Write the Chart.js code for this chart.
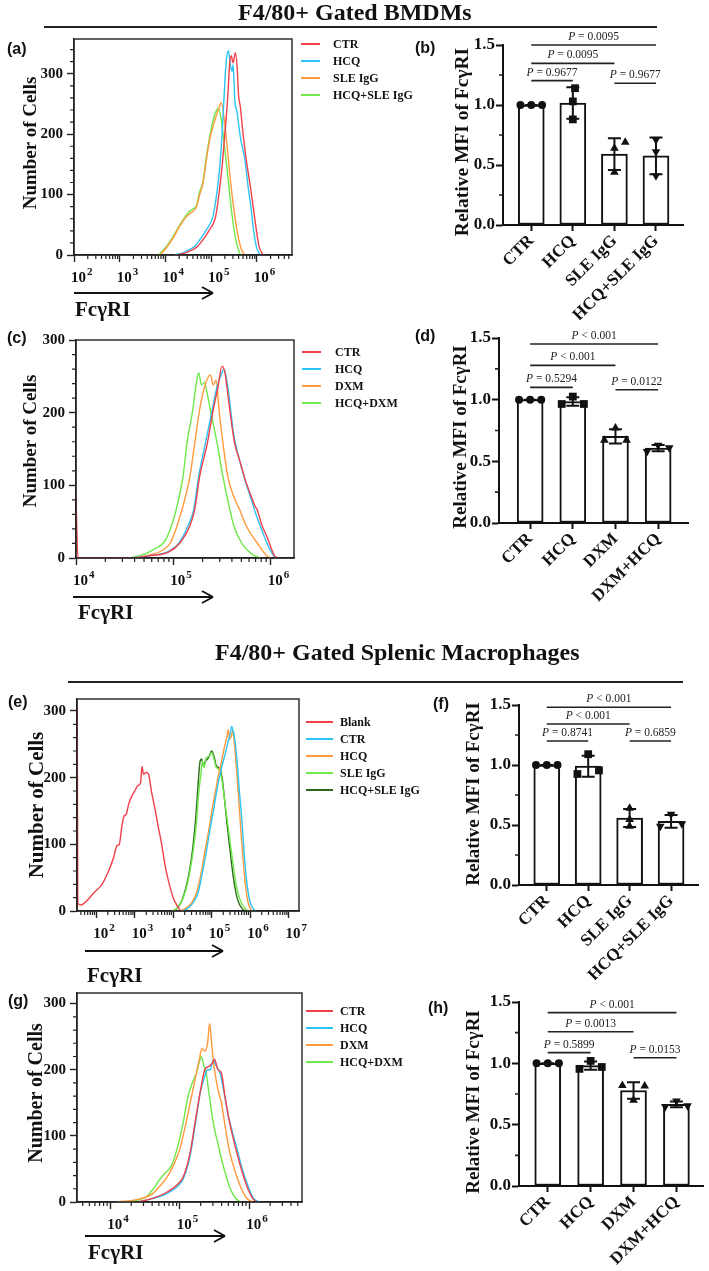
<!DOCTYPE html>
<html>
<head>
<meta charset="utf-8">
<script src="https://cdn.jsdelivr.net/npm/chart.js@4.4.1/dist/chart.umd.min.js"></script>
<style>
  body { margin: 0; background: #fff; }
  #page { position: relative; width: 709px; height: 1271px; overflow: hidden; color: #111;
          font-family: "Liberation Serif", "Times New Roman", serif; }
  #page canvas { position: absolute; }
  .txt { position: absolute; white-space: nowrap; font-weight: bold; line-height: 1; }
  .letter { font-family: "Liberation Sans", Arial, sans-serif; }
  #overlay { position: absolute; left: 0; top: 0; pointer-events: none; }
</style>
</head>
<body>
<div id="page"></div>
<script>
// ---------- histogram data: [log10(FcγRI), number of cells] ----------
const A_NAMES = ["CTR", "HCQ", "SLE IgG", "HCQ+SLE IgG"];
const A_CTR = [[4.25,0],[4.45,4],[4.6,9],[4.7,14],[4.82,25],[4.95,40],[5.1,64],[5.17,100],[5.24,146],[5.3,200],[5.36,257],[5.41,320],[5.44,330],[5.48,318],[5.53,335],[5.57,310],[5.6,265],[5.64,245],[5.7,200],[5.77,157],[5.86,113],[5.92,80],[5.98,47],[6.05,14],[6.14,0]];
const A_HCQ = [[4.2,0],[4.4,4],[4.55,10],[4.65,15],[4.75,25],[4.9,42],[5.04,64],[5.12,100],[5.19,146],[5.24,200],[5.28,257],[5.33,320],[5.38,338],[5.42,315],[5.46,304],[5.48,315],[5.52,255],[5.57,235],[5.64,195],[5.74,157],[5.81,113],[5.87,80],[5.92,47],[5.99,14],[6.07,0]];
const A_SLE = [[3.88,0],[4.0,10],[4.15,26],[4.3,46],[4.42,60],[4.52,68],[4.6,72],[4.68,80],[4.75,100],[4.82,118],[4.9,160],[4.98,195],[5.05,215],[5.12,232],[5.19,248],[5.22,252],[5.28,230],[5.35,180],[5.42,125],[5.5,75],[5.58,35],[5.66,10],[5.74,0]];
const A_HCQ_SLE = [[3.85,0],[4.0,12],[4.15,28],[4.3,48],[4.42,62],[4.52,72],[4.6,76],[4.68,82],[4.75,105],[4.82,120],[4.9,165],[4.98,200],[5.05,225],[5.12,240],[5.16,243],[5.22,225],[5.3,175],[5.38,120],[5.46,65],[5.54,25],[5.62,4],[5.66,0]];

const C_NAMES = ["CTR", "HCQ", "DXM", "HCQ+DXM"];
const C_CTR = [[4.0,83],[4.02,0],[4.55,0],[4.75,3],[4.95,8],[5.07,21],[5.17,44],[5.22,67],[5.27,112],[5.35,158],[5.41,204],[5.46,236],[5.5,264],[5.53,255],[5.55,236],[5.58,204],[5.63,158],[5.68,135],[5.75,103],[5.8,85],[5.84,71],[5.86,67],[5.91,45],[5.96,30],[6.04,3],[6.08,0]];
const C_HCQ = [[4.55,0],[4.75,3],[4.95,9],[5.06,21],[5.15,44],[5.21,67],[5.26,112],[5.33,158],[5.4,204],[5.45,236],[5.5,255],[5.52,260],[5.56,236],[5.58,215],[5.62,170],[5.67,140],[5.73,110],[5.79,85],[5.85,60],[5.91,38],[5.98,15],[6.04,2],[6.07,0]];
const C_DXM = [[4.6,0],[4.75,4],[4.88,10],[4.97,21],[5.09,67],[5.17,112],[5.22,158],[5.27,204],[5.32,235],[5.38,252],[5.41,238],[5.44,245],[5.47,204],[5.51,158],[5.56,112],[5.62,85],[5.68,67],[5.75,44],[5.86,21],[5.96,3],[6.0,0]];
const C_HCQ_DXM = [[4.55,0],[4.7,5],[4.8,12],[4.9,21],[4.97,40],[5.03,67],[5.1,112],[5.14,158],[5.2,204],[5.23,235],[5.26,255],[5.29,238],[5.32,242],[5.35,225],[5.38,204],[5.45,158],[5.51,112],[5.58,67],[5.62,45],[5.7,21],[5.8,6],[5.89,0]];

const E_NAMES = ["Blank", "CTR", "HCQ", "SLE IgG", "HCQ+SLE IgG"];
const E_BLANK = [[1.5,0],[1.505,305],[1.52,12],[1.6,9],[1.75,15],[1.95,28],[2.15,40],[2.32,60],[2.45,80],[2.54,98],[2.6,100],[2.66,125],[2.72,142],[2.78,145],[2.84,160],[2.92,172],[3.0,180],[3.08,188],[3.15,192],[3.19,217],[3.23,205],[3.3,208],[3.36,205],[3.44,178],[3.52,155],[3.6,130],[3.7,100],[3.8,65],[3.9,40],[4.0,20],[4.1,8],[4.2,0]];
const E_CTR = [[4.25,0],[4.4,5],[4.55,15],[4.65,28],[4.75,55],[4.85,85],[4.95,120],[5.05,152],[5.13,180],[5.2,200],[5.28,220],[5.35,235],[5.42,252],[5.48,265],[5.52,277],[5.56,270],[5.6,258],[5.66,225],[5.72,180],[5.78,140],[5.84,90],[5.9,50],[5.98,18],[6.06,5],[6.15,0]];
const E_HCQ = [[4.2,0],[4.35,5],[4.5,14],[4.62,30],[4.72,55],[4.82,88],[4.92,120],[5.02,155],[5.1,180],[5.18,205],[5.26,225],[5.33,245],[5.4,262],[5.43,272],[5.47,258],[5.51,262],[5.55,270],[5.6,245],[5.65,210],[5.7,170],[5.76,120],[5.82,75],[5.88,38],[5.95,12],[6.02,2],[6.06,0]];
const E_SLE = [[3.96,0],[4.1,4],[4.2,12],[4.32,30],[4.42,55],[4.52,90],[4.6,130],[4.66,175],[4.72,205],[4.76,225],[4.8,215],[4.86,230],[4.93,232],[5.0,238],[5.06,228],[5.12,215],[5.2,212],[5.27,195],[5.34,165],[5.42,130],[5.5,95],[5.58,60],[5.65,35],[5.75,15],[5.85,5],[5.95,0]];
const E_HCQ_SLE = [[4.0,0],[4.12,5],[4.22,15],[4.33,35],[4.43,62],[4.52,100],[4.6,150],[4.66,200],[4.7,225],[4.74,228],[4.78,218],[4.84,225],[4.92,230],[5.0,240],[5.06,232],[5.12,218],[5.2,214],[5.27,200],[5.33,170],[5.4,130],[5.48,90],[5.56,52],[5.64,25],[5.72,10],[5.82,2],[5.9,0]];

const G_NAMES = ["CTR", "HCQ", "DXM", "HCQ+DXM"];
const G_CTR = [[4.4,0],[4.6,5],[4.8,14],[4.95,25],[5.05,38],[5.15,75],[5.22,120],[5.3,170],[5.36,200],[5.42,205],[5.47,210],[5.5,216],[5.55,200],[5.6,195],[5.65,160],[5.7,130],[5.75,105],[5.82,75],[5.9,45],[5.98,20],[6.06,4],[6.12,0]];
const G_HCQ = [[4.4,0],[4.6,5],[4.8,12],[4.95,22],[5.05,35],[5.15,70],[5.22,115],[5.3,168],[5.36,190],[5.4,200],[5.44,200],[5.48,214],[5.53,205],[5.58,195],[5.63,170],[5.7,130],[5.76,105],[5.83,78],[5.9,50],[5.98,25],[6.06,6],[6.14,0]];
const G_DXM = [[4.1,0],[4.4,4],[4.6,12],[4.72,25],[4.82,38],[4.92,58],[5.0,80],[5.08,115],[5.16,155],[5.22,185],[5.28,215],[5.32,232],[5.36,228],[5.4,240],[5.43,270],[5.46,238],[5.5,200],[5.55,170],[5.6,150],[5.66,110],[5.72,75],[5.8,45],[5.88,22],[5.96,6],[6.05,0]];
const G_HCQ_DXM = [[4.2,0],[4.4,3],[4.52,8],[4.62,20],[4.71,34],[4.8,45],[4.88,55],[4.96,80],[5.04,115],[5.12,160],[5.18,180],[5.24,195],[5.29,215],[5.31,220],[5.35,205],[5.38,195],[5.42,165],[5.46,135],[5.5,110],[5.55,88],[5.6,65],[5.66,42],[5.72,22],[5.8,6],[5.88,0]];

// ---------- bar data: relative MFI of FcγRI, three mice per group ----------
const SLE_CATS = ["CTR", "HCQ", "SLE IgG", "HCQ+SLE IgG"];
const DXM_CATS = ["CTR", "HCQ", "DXM", "DXM+HCQ"];
const B_VALUES = [[1, 1, 1], [1.14, 1.03, 0.88], [0.69, 0.64, 0.44], [0.71, 0.61, 0.41]];
const D_VALUES = [[1, 1, 1], [0.965, 1.025, 0.965], [0.67, 0.77, 0.67], [0.58, 0.63, 0.61]];
const F_VALUES = [[1, 1, 1], [0.925, 1.09, 0.955], [0.64, 0.545, 0.49], [0.49, 0.59, 0.51]];
const H_VALUES = [[1, 1, 1], [0.955, 1.02, 0.97], [0.82, 0.70, 0.815], [0.648, 0.693, 0.655]];
// [from group, to group, bracket height, p value text]
const B_PVALUES = [[0, 1, 1.203, "= 0.9677"], [0, 2, 1.347, "= 0.0095"], [0, 3, 1.5, "= 0.0095"], [2, 3, 1.181, "= 0.9677"]];
const D_PVALUES = [[0, 1, 1.10, "= 0.5294"], [0, 2, 1.278, "< 0.001"], [0, 3, 1.451, "< 0.001"], [2, 3, 1.081, "= 0.0122"]];
const F_PVALUES = [[0, 1, 1.2, "= 0.8741"], [0, 2, 1.342, "< 0.001"], [0, 3, 1.481, "< 0.001"], [2, 3, 1.2, "= 0.6859"]];
const H_PVALUES = [[0, 1, 1.087, "= 0.5899"], [0, 2, 1.258, "= 0.0013"], [0, 3, 1.413, "< 0.001"], [2, 3, 1.046, "= 0.0153"]];

// ---------- layout ----------
const RED = "#f0404a", BLUE = "#2cc4f4", ORANGE = "#ff9a3c", LGREEN = "#6ee84a", DGREEN = "#2f6a1c";
const SERIF = '"Liberation Serif", "Times New Roman", serif';
// horizontal spread of overlapping dots (in dot widths)
const B_SPREAD = [[-1, 0, 1], [0.2, 0, 0], [1, 0, 0], [0, 0, 0]];
const D_SPREAD = [[-1, 0, 1], [-1, 0, 1], [-1, 0, 1], [-1, 0, 1]];
const F_SPREAD = [[-1, 0, 1], [-1, 0, 1], [0, 0, 0], [-1, 0, 1]];
const H_SPREAD = [[-1, 0, 1], [-1, 0, 1], [-1, 0, 1], [-1, 0, 1]];

Chart.defaults.font.family = SERIF;
Chart.defaults.color = "#111";
Chart.defaults.animation = false;
Chart.defaults.plugins.legend.display = false;
Chart.defaults.plugins.tooltip.enabled = false;

const page = document.getElementById("page");

function addCanvas(left, top, w, h) {
  const cv = document.createElement("canvas");
  cv.width = w;
  cv.height = h;
  cv.style.left = left + "px";
  cv.style.top = top + "px";
  page.appendChild(cv);
  return cv;
}

function addText(txt, x, baseline, size, cls) {
  const el = document.createElement("div");
  el.className = "txt " + (cls || "");
  el.style.fontSize = size + "px";
  el.style.left = x + "px";
  el.style.top = (baseline - 0.84 * size) + "px";
  el.innerHTML = txt;
  page.appendChild(el);
  return el;
}

function addVTitle(txt, cx, cy, size) {
  const el = document.createElement("div");
  el.className = "txt";
  el.style.fontSize = size + "px";
  el.style.left = cx + "px";
  el.style.top = cy + "px";
  el.style.transform = "translate(-50%,-50%) rotate(-90deg)";
  el.textContent = txt;
  page.appendChild(el);
}

const mean = (a) => a.reduce((s, v) => s + v, 0) / a.length;
const sd = (a) => {
  const m = mean(a);
  return Math.sqrt(a.reduce((s, v) => s + (v - m) * (v - m), 0) / (a.length - 1));
};

// outline of the histogram plot area
const boxPlugin = {
  id: "box",
  afterDraw(chart) {
    const { ctx, chartArea: c } = chart;
    ctx.save();
    ctx.strokeStyle = "#222";
    ctx.lineWidth = 1.4;
    ctx.strokeRect(c.left, c.top, c.right - c.left, c.bottom - c.top);
    ctx.restore();
  }
};

// "10" with the decade as superscript under each major tick
const supPlugin = {
  id: "sup",
  afterDraw(chart) {
    const { ctx, scales: { x } } = chart;
    ctx.save();
    ctx.fillStyle = "#111";
    ctx.textBaseline = "alphabetic";
    ctx.textAlign = "left";
    x.ticks.forEach((t) => {
      const px = x.getPixelForValue(t.value);
      ctx.font = "bold 15px " + SERIF;
      ctx.fillText("10", px - 3, x.top + 27);
      const w = ctx.measureText("10").width;
      ctx.font = "bold 11px " + SERIF;
      ctx.fillText(String(t.value), px - 2 + w, x.top + 20);
    });
    ctx.restore();
  }
};

// short unlabelled ticks
const minorPlugin = {
  id: "minor",
  afterDraw(chart, args, opts) {
    const { ctx, scales: { x, y } } = chart;
    ctx.save();
    ctx.strokeStyle = "#222";
    ctx.lineWidth = opts.width || 1.2;
    ctx.beginPath();
    (opts.x || []).forEach((v) => {
      const p = x.getPixelForValue(v);
      ctx.moveTo(p, x.top);
      ctx.lineTo(p, x.top + 4);
    });
    (opts.y || []).forEach((v) => {
      const p = y.getPixelForValue(v);
      ctx.moveTo(y.right, p);
      ctx.lineTo(y.right - 4, p);
    });
    ctx.stroke();
    ctx.restore();
  }
};

// mean ± SD error bars and p value labels
const statPlugin = {
  id: "stat",
  afterDatasetDraw(chart, args, opts) {
    if (args.index !== 0) return;
    const { ctx, scales: { x, y } } = chart;
    ctx.save();
    ctx.strokeStyle = "#111";
    ctx.lineWidth = 2;
    ctx.beginPath();
    opts.groups.forEach((g, i) => {
      const m = mean(g), s = sd(g);
      const px = x.getPixelForValue(i);
      const yt = y.getPixelForValue(m + s), yb = y.getPixelForValue(m - s);
      ctx.moveTo(px, yt); ctx.lineTo(px, yb);
      ctx.moveTo(px - 6.5, yt); ctx.lineTo(px + 6.5, yt);
      ctx.moveTo(px - 6.5, yb); ctx.lineTo(px + 6.5, yb);
    });
    ctx.stroke();
    ctx.restore();
  },
  afterDraw(chart, args, opts) {
    const { ctx, scales: { x, y } } = chart;
    ctx.save();
    ctx.fillStyle = "#222";
    ctx.textBaseline = "alphabetic";
    ctx.textAlign = "left";
    opts.pvalues.forEach(([a, b, v, t]) => {
      const cx = (x.getPixelForValue(a) + x.getPixelForValue(b)) / 2;
      const py = y.getPixelForValue(v) - 5;
      ctx.font = "italic 11.5px " + SERIF;
      const w1 = ctx.measureText("P").width;
      ctx.font = "11.5px " + SERIF;
      const rest = " " + t;
      const w2 = ctx.measureText(rest).width;
      const x0 = cx - (w1 + w2) / 2;
      ctx.font = "italic 11.5px " + SERIF;
      ctx.fillText("P", x0, py);
      ctx.font = "11.5px " + SERIF;
      ctx.fillText(rest, x0 + w1, py);
    });
    ctx.restore();
  }
};

function makeHist(box, xRange, yMax, series, colors) {
  const top = box.T - 14;
  const cv = addCanvas(0, top, box.R + 8, box.B - top + 40);
  const majors = [];
  for (let n = Math.ceil(xRange[0]); n <= xRange[1]; n++) majors.push(n);
  const minorsX = [];
  for (let n = Math.floor(xRange[0]); n <= xRange[1]; n++) {
    for (let k = 2; k <= 9; k++) {
      const v = n + Math.log10(k);
      if (v > xRange[0] && v < xRange[1]) minorsX.push(v);
    }
  }
  const minorsY = [];
  for (let v = 20; v < yMax; v += 20) if (v % 100) minorsY.push(v);

  new Chart(cv, {
    type: "line",
    data: {
      datasets: series.map((pts, i) => ({
        data: pts.map((p) => ({ x: p[0], y: p[1] })),
        borderColor: colors[i],
        borderWidth: 1.4,
        pointRadius: 0,
        cubicInterpolationMode: "monotone",
        fill: false
      }))
    },
    options: {
      responsive: false,
      devicePixelRatio: 1,
      layout: { padding: { top: 14, right: 8, left: 0, bottom: 0 } },
      scales: {
        x: {
          type: "linear",
          min: xRange[0],
          max: xRange[1],
          afterBuildTicks: (ax) => { ax.ticks = majors.map((v) => ({ value: v })); },
          afterFit: (ax) => { ax.height = 40; },
          ticks: { callback: () => "", autoSkip: false },
          grid: { drawOnChartArea: false, tickLength: 7, tickColor: "#222", tickWidth: 1.4 },
          border: { color: "#222", width: 1.4 }
        },
        y: {
          min: 0,
          max: yMax,
          afterFit: (ax) => { ax.width = box.L; },
          ticks: { stepSize: 100, includeBounds: false, padding: 4, autoSkip: false,
                   font: { size: 15, weight: "bold" }, color: "#111" },
          grid: { drawOnChartArea: false, tickLength: 7, tickColor: "#222", tickWidth: 1.4 },
          border: { color: "#222", width: 1.4 }
        }
      },
      plugins: { minor: { x: minorsX, y: minorsY } }
    },
    plugins: [boxPlugin, supPlugin, minorPlugin]
  });
}

function makeBar(box, xRange, cats, groups, spread, pvalues) {
  const left = box.L - 72, top = box.T - 45;
  const cv = addCanvas(left, top, box.R + 10 - left, box.B + 95 - top);
  const shapes = ["circle", "rect", "triangle", "triangle"];
  const radii = [4, 5.5, 5, 5];
  const datasets = [{
    type: "bar",
    data: groups.map((g, i) => ({ x: i, y: mean(g) })),
    backgroundColor: "#fff",
    borderColor: "#111",
    borderWidth: 2,
    borderSkipped: false,
    barThickness: 26,
    order: 5
  }];
  groups.forEach((g, i) => {
    datasets.push({
      type: "scatter",
      data: g.map((v, k) => ({ x: i + spread[i][k] * 0.26, y: v })),
      pointStyle: shapes[i],
      pointRotation: i === 3 ? 180 : 0,
      pointRadius: radii[i],
      pointBackgroundColor: "#111",
      pointBorderColor: "#111",
      pointBorderWidth: 0,
      order: 1
    });
  });
  pvalues.forEach(([a, b, v]) => {
    datasets.push({
      type: "line",
      data: [{ x: a, y: v }, { x: b, y: v }],
      borderColor: "#222",
      borderWidth: 1.6,
      pointRadius: 0,
      clip: false,
      order: 2
    });
  });

  new Chart(cv, {
    type: "bar",
    data: { datasets },
    options: {
      responsive: false,
      devicePixelRatio: 1,
      layout: { padding: { top: 45, right: 10, left: 0, bottom: 0 } },
      scales: {
        x: {
          type: "linear",
          min: xRange[0],
          max: xRange[1],
          offset: false,
          afterBuildTicks: (ax) => { ax.ticks = cats.map((c, i) => ({ value: i })); },
          afterFit: (ax) => { ax.height = 95; },
          ticks: { callback: (v) => cats[v], autoSkip: false, minRotation: 45, maxRotation: 45,
                   padding: 0, font: { size: 17, weight: "bold" }, color: "#111" },
          grid: { drawOnChartArea: false, offset: false, tickLength: 6, tickWidth: 2, tickColor: "#111" },
          border: { color: "#111", width: 2 }
        },
        y: {
          min: 0,
          max: 1.5,
          afterFit: (ax) => { ax.width = 72; },
          ticks: { stepSize: 0.5, callback: (v) => v.toFixed(1), padding: 1,
                   font: { size: 17, weight: "bold" }, color: "#111" },
          grid: { drawOnChartArea: false, tickLength: 7, tickWidth: 2, tickColor: "#111" },
          border: { color: "#111", width: 2 }
        }
      },
      plugins: {
        minor: { y: [0.25, 0.75, 1.25], width: 1.6 },
        stat: { groups, pvalues }
      }
    },
    plugins: [minorPlugin, statPlugin]
  });
}

// ---------- charts ----------
makeHist({ L: 74, T: 39, R: 292, B: 255 }, [2, 6.77], 357.5,
  [A_CTR, A_HCQ, A_SLE, A_HCQ_SLE], [RED, BLUE, ORANGE, LGREEN]);
makeHist({ L: 76, T: 340, R: 294, B: 558 }, [4, 6.24], 300,
  [C_CTR, C_HCQ, C_DXM, C_HCQ_DXM], [RED, BLUE, ORANGE, LGREEN]);
makeHist({ L: 77, T: 699, R: 299, B: 911 }, [1.5, 7.27], 318,
  [E_BLANK, E_CTR, E_HCQ, E_SLE, E_HCQ_SLE], [RED, BLUE, ORANGE, LGREEN, DGREEN]);
makeHist({ L: 77, T: 993, R: 302, B: 1202 }, [3.52, 6.76], 316,
  [G_CTR, G_HCQ, G_DXM, G_HCQ_DXM], [RED, BLUE, ORANGE, LGREEN]);

makeBar({ L: 503, T: 45, R: 683, B: 225 }, [-0.68, 3.65], SLE_CATS, B_VALUES, B_SPREAD, B_PVALUES);
makeBar({ L: 499, T: 338, R: 688, B: 523 }, [-0.73, 3.7], DXM_CATS, D_VALUES, D_SPREAD, D_PVALUES);
makeBar({ L: 519, T: 705, R: 698, B: 885 }, [-0.67, 3.65], SLE_CATS, F_VALUES, F_SPREAD, F_PVALUES);
makeBar({ L: 519, T: 1002, R: 703, B: 1186 }, [-0.67, 3.62], DXM_CATS, H_VALUES, H_SPREAD, H_PVALUES);

// ---------- text, legends, arrows ----------
const svgNS = "http://www.w3.org/2000/svg";
const svg = document.createElementNS(svgNS, "svg");
svg.setAttribute("id", "overlay");
svg.setAttribute("width", 709);
svg.setAttribute("height", 1271);
page.appendChild(svg);

function svgLine(x1, y1, x2, y2, color, w) {
  const l = document.createElementNS(svgNS, "line");
  l.setAttribute("x1", x1); l.setAttribute("y1", y1);
  l.setAttribute("x2", x2); l.setAttribute("y2", y2);
  l.setAttribute("stroke", color); l.setAttribute("stroke-width", w);
  svg.appendChild(l);
}

function arrow(x1, x2, y) {
  svgLine(x1, y, x2, y, "#111", 1.8);
  svgLine(x2 - 11, y - 6, x2, y, "#111", 1.8);
  svgLine(x2 - 11, y + 6, x2, y, "#111", 1.8);
}

function legend(names, colors, lineX, lineW, textX, y0) {
  names.forEach((n, i) => {
    const y = y0 + i * 17;
    svgLine(lineX, y, lineX + lineW, y, colors[i], 2);
    addText(n, textX, y + 4.5, 12);
  });
}

addText("F4/80+ Gated BMDMs", 238, 20, 24);
svgLine(44, 27, 657, 27, "#222", 1.8);
addText("F4/80+ Gated Splenic Macrophages", 215, 660, 24);
svgLine(68, 682, 683, 682, "#222", 1.8);

addText("(a)", 7, 54, 16, "letter");
addText("(b)", 415, 53, 16, "letter");
addText("(c)", 7, 343, 16, "letter");
addText("(d)", 415, 341, 16, "letter");
addText("(e)", 8, 707, 16, "letter");
addText("(f)", 433, 709, 16, "letter");
addText("(g)", 8, 1006, 16, "letter");
addText("(h)", 428, 1013, 16, "letter");

addVTitle("Number of Cells", 29, 143, 19);
addVTitle("Number of Cells", 29, 441, 19);
addVTitle("Number of Cells", 36, 805, 21);
addVTitle("Number of Cells", 35, 1093, 20);
addVTitle("Relative MFI of FcγRI", 462, 142, 19.5);
addVTitle("Relative MFI of FcγRI", 459, 437, 19);
addVTitle("Relative MFI of FcγRI", 472, 794, 19);
addVTitle("Relative MFI of FcγRI", 472, 1102, 19);

legend(A_NAMES, [RED, BLUE, ORANGE, LGREEN], 301, 19, 333, 44);
legend(C_NAMES, [RED, BLUE, ORANGE, LGREEN], 302, 19, 335, 352);
legend(E_NAMES, [RED, BLUE, ORANGE, LGREEN, DGREEN], 306, 27, 340, 722);
legend(G_NAMES, [RED, BLUE, ORANGE, LGREEN], 306, 27, 340, 1011);

arrow(74, 213, 293);
arrow(73, 213, 597);
arrow(85, 223, 951);
arrow(85, 225, 1236);
addText("FcγRI", 75, 317, 21);
addText("FcγRI", 78, 620, 21);
addText("FcγRI", 87, 983, 21);
addText("FcγRI", 88, 1260, 21);
</script>
</body>
</html>
